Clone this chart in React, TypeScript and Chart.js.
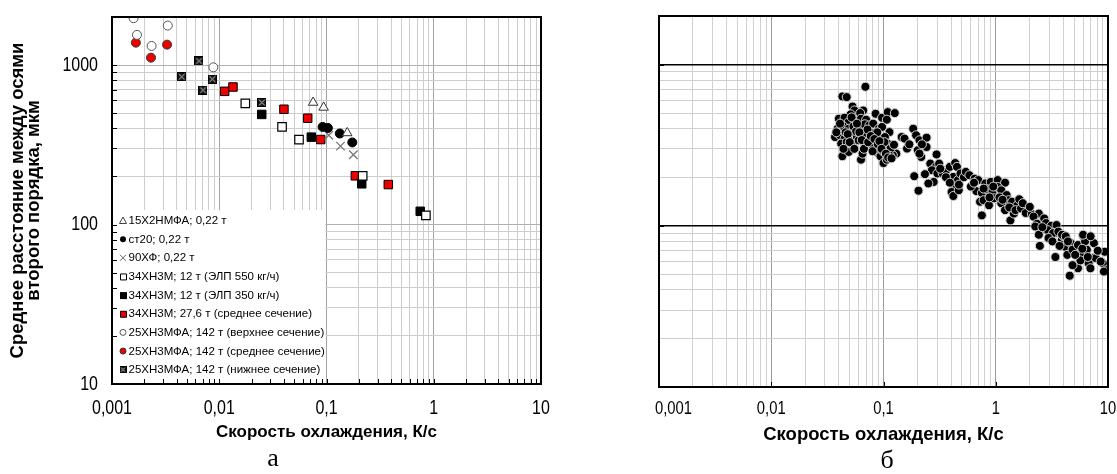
import React, { useEffect, useRef } from 'react';
import { Chart, registerables } from 'chart.js';

Chart.register(...registerables);

// ---------------- data ----------------
const xDecadeLabels = ['0,001', '0,01', '0,1', '1', '10'];
const yDecadeLabels = ['10', '100', '1000'];
const xTitle = 'Скорость охлаждения, К/с';
const yTitle = ['Среднее расстояние между осями', 'второго порядка, мкм'];
const captions = ['а', 'б'];

const legendLabels = [
  '15Х2НМФА; 0,22 т',
  'ст20; 0,22 т',
  '90ХФ; 0,22 т',
  '34ХН3М; 12 т (ЭЛП 550 кг/ч)',
  '34ХН3М; 12 т (ЭЛП 350 кг/ч)',
  '34ХН3М; 27,6 т (среднее сечение)',
  '25ХН3МФА; 142 т (верхнее сечение)',
  '25ХН3МФА; 142 т (среднее сечение)',
  '25ХН3МФА; 142 т (нижнее сечение)',
];

const s15H2NMFA = [[0.075, 582], [0.094, 542], [0.156, 375]];
const sSt20 = [[0.092, 409], [0.103, 403], [0.133, 372], [0.174, 327]];
const s90HF = [[0.105, 363], [0.135, 310], [0.178, 274]];
const s34ELP550 = [[0.0175, 574], [0.0385, 409], [0.0554, 341], [0.2175, 202], [0.845, 114]];
const s34ELP350 = [[0.0249, 490], [0.0722, 353], [0.213, 180], [0.748, 121]];
const s34Mid = [[0.01124, 684], [0.01343, 728], [0.0401, 528], [0.0668, 464], [0.0883, 341], [0.1857, 202], [0.377, 178]];
const s25Top = [[0.00159, 1967], [0.00171, 1545], [0.00234, 1316], [0.00331, 1767], [0.00881, 967]];
const s25Mid = [[0.00167, 1381], [0.00231, 1112], [0.00326, 1342]];
const s25Bot = [[0.00647, 1060], [0.00447, 844], [0.00705, 696], [0.00861, 816], [0.025, 582]];

const cloudSlow = [
  [0.069, 728], [0.043, 634], [0.047, 628], [0.053, 549], [0.055, 519], [0.051, 491], [0.066, 519], [0.062, 500],
  [0.085, 495], [0.097, 468], [0.109, 507], [0.126, 500], [0.107, 455], [0.040, 461], [0.045, 468], [0.049, 440],
  [0.056, 451], [0.063, 461], [0.070, 455], [0.039, 400], [0.044, 413], [0.049, 400], [0.054, 413], [0.060, 404],
  [0.068, 426], [0.075, 420], [0.081, 430], [0.091, 400], [0.097, 410], [0.113, 381], [0.037, 355], [0.041, 364],
  [0.045, 347], [0.052, 359], [0.058, 355], [0.065, 352], [0.071, 364], [0.078, 376], [0.087, 359], [0.094, 347],
  [0.103, 355], [0.042, 323], [0.047, 331], [0.053, 320], [0.060, 339], [0.068, 320], [0.084, 305], [0.091, 294],
  [0.100, 308], [0.109, 323], [0.117, 294], [0.126, 287], [0.043, 270], [0.049, 287], [0.063, 257], [0.065, 280],
  [0.086, 287], [0.094, 270], [0.100, 245], [0.107, 257], [0.130, 280], [0.121, 274], [0.046, 380], [0.057, 385],
  [0.072, 395], [0.088, 380], [0.102, 330], [0.115, 300], [0.075, 340], [0.081, 310], [0.099, 290], [0.114, 272],
  [0.038, 380], [0.041, 430], [0.044, 300], [0.048, 370], [0.050, 330], [0.052, 470], [0.055, 300], [0.058, 430],
  [0.061, 380], [0.064, 340], [0.067, 300], [0.073, 330], [0.077, 360], [0.080, 290], [0.083, 345], [0.089, 320],
  [0.092, 335], [0.096, 300], [0.105, 280], [0.110, 265], [0.118, 262], [0.124, 318],
];
const cloudMid = [
  [0.145, 355], [0.154, 347], [0.184, 400], [0.195, 364], [0.209, 339], [0.242, 352], [0.242, 308], [0.162, 301],
  [0.202, 294], [0.217, 267], [0.209, 280], [0.297, 277], [0.188, 203], [0.205, 165], [0.17, 320], [0.22, 320],
  [0.261, 243], [0.292, 232], [0.313, 243], [0.270, 221], [0.302, 211], [0.280, 187], [0.251, 183], [0.234, 209],
  [0.337, 211], [0.362, 221], [0.390, 232], [0.435, 245], [0.451, 232], [0.419, 201], [0.461, 192], [0.485, 211],
  [0.435, 174], [0.404, 162], [0.419, 153], [0.468, 166], [0.32, 226], [0.36, 200], [0.39, 185], [0.47, 180],
  [0.52, 200],
];
const cloudFast = [
  [0.541, 216], [0.582, 206], [0.649, 196], [0.699, 192], [0.808, 183], [0.902, 187], [1.04, 192], [1.21, 185],
  [0.673, 164], [0.752, 160], [0.838, 168], [0.935, 162], [1.04, 174], [1.12, 166], [1.25, 155], [0.725, 141],
  [0.779, 144], [0.870, 134], [0.970, 148], [1.12, 138], [1.30, 144], [1.40, 141], [0.752, 116], [1.21, 125],
  [1.35, 108], [1.45, 119], [1.56, 134], [1.62, 146], [0.60, 175], [0.64, 185], [0.78, 170], [0.88, 150],
  [0.95, 175], [1.08, 150], [1.15, 145], [1.32, 130], [1.50, 125], [1.68, 128], [1.85, 120], [2.1, 118],
  [1.74, 138], [2.01, 131], [2.42, 119], [2.70, 111], [2.17, 114], [2.33, 103], [2.51, 94], [2.80, 104],
  [3.12, 100], [3.48, 101], [3.36, 90], [2.25, 99], [2.42, 88], [2.47, 75], [2.90, 94], [3.24, 90],
  [3.40, 64], [3.89, 82], [4.18, 74], [4.66, 78], [4.34, 66], [4.83, 71], [5.40, 76], [5.80, 66],
  [6.02, 86], [6.25, 80], [6.48, 71], [7.23, 63], [7.49, 78], [6.72, 58.5], [6.97, 54.5], [7.77, 63],
  [9.33, 69], [9.0, 58.5], [9.66, 53], [9.2, 52], [4.56, 49], [5.40, 54.5], [4.83, 57], [5.68, 61],
  [4.03, 86], [3.61, 92], [3.9, 88], [4.2, 86], [6.0, 88], [7.0, 86], [2.6, 98], [2.95, 84],
  [3.2, 80], [3.7, 75], [4.4, 80], [5.1, 66], [5.9, 72], [6.6, 64], [8.1, 70], [8.6, 60],
];

// ---------------- helpers ----------------
const SANS = "'Liberation Sans', Arial, sans-serif";

function decade(v: number): number | null {
  const l = Math.log10(v);
  const r = Math.round(l);
  return Math.abs(l - r) < 1e-6 ? r : null;
}
const fmtX = (v: number) => {
  const d = decade(v);
  return d === null ? '' : xDecadeLabels[d + 3] ?? '';
};
const fmtY = (v: number) => {
  const d = decade(v);
  return d === null ? '' : yDecadeLabels[d - 1] ?? '';
};
function logTicks(min: number, max: number) {
  const out: { value: number }[] = [];
  for (let d = Math.floor(Math.log10(min)); d <= Math.ceil(Math.log10(max)); d++) {
    for (let m = 1; m <= 9; m++) {
      const v = parseFloat((m * Math.pow(10, d)).toPrecision(6));
      if (v >= min - 1e-12 && v <= max + 1e-9) out.push({ value: v });
    }
  }
  return out;
}
const pts = (arr: number[][]) => arr.map(([x, y]) => ({ x, y }));

function crossedSquare(size: number) {
  const c = document.createElement('canvas');
  c.width = size;
  c.height = size;
  const g = c.getContext('2d')!;
  g.fillStyle = '#1a1a1a';
  g.fillRect(0, 0, size, size);
  g.strokeStyle = '#c8c8c8';
  g.lineWidth = 1;
  g.beginPath();
  g.moveTo(1.5, 1.5);
  g.lineTo(size - 1.5, size - 1.5);
  g.moveTo(size - 1.5, 1.5);
  g.lineTo(1.5, size - 1.5);
  g.stroke();
  g.strokeStyle = '#000';
  g.strokeRect(0.5, 0.5, size - 1, size - 1);
  return c;
}

function drawLegendMarker(ctx: CanvasRenderingContext2D, i: number, cx: number, cy: number, img: HTMLCanvasElement) {
  ctx.save();
  ctx.lineWidth = 1;
  const s = 3;
  ctx.beginPath();
  switch (i) {
    case 0:
      ctx.moveTo(cx, cy - s - 0.5);
      ctx.lineTo(cx + s + 0.5, cy + s);
      ctx.lineTo(cx - s - 0.5, cy + s);
      ctx.closePath();
      ctx.fillStyle = '#fff';
      ctx.fill();
      ctx.strokeStyle = '#444';
      ctx.stroke();
      break;
    case 1:
      ctx.arc(cx, cy, s, 0, Math.PI * 2);
      ctx.fillStyle = '#000';
      ctx.fill();
      break;
    case 2:
      ctx.moveTo(cx - s, cy - s);
      ctx.lineTo(cx + s, cy + s);
      ctx.moveTo(cx + s, cy - s);
      ctx.lineTo(cx - s, cy + s);
      ctx.strokeStyle = '#666';
      ctx.stroke();
      break;
    case 3:
      ctx.rect(cx - s + 0.5, cy - s + 0.5, 2 * s, 2 * s);
      ctx.fillStyle = '#fff';
      ctx.fill();
      ctx.strokeStyle = '#000';
      ctx.stroke();
      break;
    case 4:
      ctx.fillStyle = '#000';
      ctx.fillRect(cx - s, cy - s, 2 * s + 1, 2 * s + 1);
      break;
    case 5:
      ctx.rect(cx - s + 0.5, cy - s + 0.5, 2 * s, 2 * s);
      ctx.fillStyle = '#ee0000';
      ctx.fill();
      ctx.strokeStyle = '#000';
      ctx.stroke();
      break;
    case 6:
      ctx.arc(cx, cy, s, 0, Math.PI * 2);
      ctx.fillStyle = '#fff';
      ctx.fill();
      ctx.strokeStyle = '#555';
      ctx.stroke();
      break;
    case 7:
      ctx.arc(cx, cy, s, 0, Math.PI * 2);
      ctx.fillStyle = '#ee0000';
      ctx.fill();
      ctx.strokeStyle = '#333';
      ctx.stroke();
      break;
    case 8:
      ctx.drawImage(img, cx - 3.5, cy - 3.5, 7, 7);
      break;
  }
  ctx.restore();
}

type FrameCfg = {
  id: string;
  allTicks: boolean;
  tickLen: number;
  labelSize: number;
  vScale: number;
  xLabelY: number;
  yLabelRight: number | null;
  clampFirst: boolean;
};

function framePlugin(cfg: FrameCfg) {
  return {
    id: cfg.id,
    afterDraw(chart: any) {
      const { ctx, chartArea: a } = chart;
      const xs = chart.scales.x;
      const ys = chart.scales.y;
      ctx.save();
      // inward tick marks
      ctx.strokeStyle = '#000';
      ctx.lineWidth = 1;
      ctx.beginPath();
      xs.ticks.forEach((t: any) => {
        if (!cfg.allTicks && decade(t.value) === null) return;
        const px = Math.round(xs.getPixelForValue(t.value)) + 0.5;
        ctx.moveTo(px, a.bottom);
        ctx.lineTo(px, a.bottom - cfg.tickLen);
      });
      ys.ticks.forEach((t: any) => {
        if (!cfg.allTicks && decade(t.value) === null) return;
        const py = Math.round(ys.getPixelForValue(t.value)) + 0.5;
        ctx.moveTo(a.left, py);
        ctx.lineTo(a.left + cfg.tickLen, py);
      });
      ctx.stroke();
      // frame
      ctx.lineWidth = 2;
      ctx.strokeRect(a.left, a.top, a.right - a.left, a.bottom - a.top);
      // tick labels (tall, like the reference)
      ctx.fillStyle = '#000';
      ctx.font = `${cfg.labelSize}px ${SANS}`;
      ctx.textBaseline = 'middle';
      xs.ticks.forEach((t: any) => {
        const lab = fmtX(t.value);
        if (!lab) return;
        let px = xs.getPixelForValue(t.value);
        const w = ctx.measureText(lab).width;
        if (cfg.clampFirst && px - w / 2 < a.left - 4) px = a.left - 4 + w / 2;
        ctx.save();
        ctx.translate(px, cfg.xLabelY);
        ctx.scale(1, cfg.vScale);
        ctx.textAlign = 'center';
        ctx.fillText(lab, 0, 0);
        ctx.restore();
      });
      if (cfg.yLabelRight !== null) {
        ys.ticks.forEach((t: any) => {
          const lab = fmtY(t.value);
          if (!lab) return;
          const py = ys.getPixelForValue(t.value);
          ctx.save();
          ctx.translate(cfg.yLabelRight, py);
          ctx.scale(1, cfg.vScale);
          ctx.textAlign = 'right';
          ctx.fillText(lab, 0, 0);
          ctx.restore();
        });
      }
      ctx.restore();
    },
  };
}

export default function App() {
  const leftRef = useRef<HTMLCanvasElement>(null);
  const rightRef = useRef<HTMLCanvasElement>(null);

  useEffect(() => {
    const img = crossedSquare(9);
    const legendImg = crossedSquare(7);

    const legendPlugin = {
      id: 'insetLegend',
      afterDraw(chart: any) {
        const { ctx, chartArea: a } = chart;
        const xs = chart.scales.x;
        const right = xs.getPixelForValue(0.1) - 1;
        const top = 210;
        ctx.save();
        ctx.fillStyle = '#fff';
        ctx.fillRect(a.left, top, right - a.left, a.bottom - top);
        ctx.font = `11.5px ${SANS}`;
        ctx.textBaseline = 'middle';
        ctx.textAlign = 'left';
        legendLabels.forEach((lab, i) => {
          const cy = 220.5 + i * 18.65;
          drawLegendMarker(ctx, i, 123, cy, legendImg);
          ctx.fillStyle = '#000';
          ctx.fillText(lab, 128.5, cy + 0.5);
        });
        ctx.restore();
      },
    };

    const xBase = (height: number, titleSize: number, titlePad: number, gridColor: any) => ({
      type: 'logarithmic',
      min: 0.001,
      max: 10,
      afterBuildTicks: (s: any) => {
        s.ticks = logTicks(0.001, 10);
      },
      afterFit: (s: any) => {
        s.height = height;
        s.paddingLeft = 0;
        s.paddingRight = 0;
      },
      grid: { color: gridColor, lineWidth: 1, drawTicks: false },
      border: { display: false },
      ticks: { display: false },
      title: {
        display: true,
        text: xTitle,
        color: '#000',
        font: { family: SANS, size: titleSize, weight: 'bold' },
        padding: { top: 0, bottom: titlePad },
      },
    });

    const tickOf = (c: any) => (c && c.tick ? c.tick.value : 2);

    const left = new Chart(leftRef.current!, {
      type: 'scatter',
      data: {
        datasets: [
          { label: legendLabels[0], data: pts(s15H2NMFA), pointStyle: 'triangle', pointRadius: 5.5, backgroundColor: '#fff', borderColor: '#333', borderWidth: 1 },
          { label: legendLabels[1], data: pts(sSt20), pointStyle: 'circle', pointRadius: 4.5, backgroundColor: '#000', borderColor: '#000', borderWidth: 1 },
          { label: legendLabels[2], data: pts(s90HF), pointStyle: 'crossRot', pointRadius: 6, backgroundColor: '#777', borderColor: '#777', borderWidth: 1.3 },
          { label: legendLabels[3], data: pts(s34ELP550), pointStyle: 'rect', pointRadius: 6, backgroundColor: '#fff', borderColor: '#000', borderWidth: 1.2 },
          { label: legendLabels[4], data: pts(s34ELP350), pointStyle: 'rect', pointRadius: 6, backgroundColor: '#000', borderColor: '#000', borderWidth: 1 },
          { label: legendLabels[5], data: pts(s34Mid), pointStyle: 'rect', pointRadius: 6, backgroundColor: '#ee0000', borderColor: '#000', borderWidth: 1 },
          { label: legendLabels[6], data: pts(s25Top), pointStyle: 'circle', pointRadius: 4.5, backgroundColor: '#fff', borderColor: '#555', borderWidth: 1 },
          { label: legendLabels[7], data: pts(s25Mid), pointStyle: 'circle', pointRadius: 4.5, backgroundColor: '#ee0000', borderColor: '#333', borderWidth: 1 },
          { label: legendLabels[8], data: pts(s25Bot), pointStyle: img, pointRadius: 5 },
        ],
      },
      options: {
        animation: false,
        responsive: false,
        maintainAspectRatio: false,
        events: [],
        layout: { padding: { left: 0, right: 19, top: 17, bottom: 0 } },
        plugins: { legend: { display: false }, tooltip: { enabled: false } },
        scales: {
          x: xBase(90, 17, 31, (c: any) => (decade(tickOf(c)) !== null ? '#a3a3a3' : '#cdcdcd')),
          y: {
            type: 'logarithmic',
            min: 10,
            max: 2000,
            afterBuildTicks: (s: any) => {
              s.ticks = logTicks(10, 2000);
            },
            afterFit: (s: any) => {
              s.width = 112;
              s.paddingTop = 0;
              s.paddingBottom = 0;
            },
            grid: { color: (c: any) => (decade(tickOf(c)) !== null ? '#b0b0b0' : '#cdcdcd'), lineWidth: 1, drawTicks: false },
            border: { display: false },
            ticks: { display: false },
            title: {
              display: true,
              text: yTitle,
              color: '#000',
              font: { family: SANS, size: 18.5, weight: 'bold', lineHeight: 0.865 },
              padding: { top: 10, bottom: 0 },
            },
          },
        },
      } as any,
      plugins: [
        legendPlugin,
        framePlugin({ id: 'leftFrame', allTicks: true, tickLen: 5, labelSize: 16, vScale: 1.28, xLabelY: 408, yLabelRight: 98, clampFirst: false }),
      ],
    });

    const right = new Chart(rightRef.current!, {
      type: 'scatter',
      data: {
        datasets: [
          {
            label: 'cloud',
            data: pts([...cloudSlow, ...cloudMid, ...cloudFast]),
            pointStyle: 'circle',
            pointRadius: 4.5,
            backgroundColor: '#000',
            borderColor: '#d4d4d4',
            borderWidth: 1,
          },
        ],
      },
      options: {
        animation: false,
        responsive: false,
        maintainAspectRatio: false,
        events: [],
        layout: { padding: { left: 0, right: 9, top: 16, bottom: 0 } },
        plugins: { legend: { display: false }, tooltip: { enabled: false } },
        scales: {
          x: xBase(87, 18.5, 28, (c: any) => (decade(tickOf(c)) !== null ? '#9a9a9a' : '#d0d0d0')),
          y: {
            type: 'logarithmic',
            min: 10,
            max: 2000,
            afterBuildTicks: (s: any) => {
              s.ticks = logTicks(10, 2000);
            },
            afterFit: (s: any) => {
              s.width = 99;
              s.paddingTop = 0;
              s.paddingBottom = 0;
            },
            grid: {
              color: (c: any) => (decade(tickOf(c)) !== null ? '#000' : '#d0d0d0'),
              lineWidth: (c: any) => (decade(tickOf(c)) !== null ? 1.5 : 1),
              drawTicks: false,
            },
            border: { display: false },
            ticks: { display: false },
          },
        },
      } as any,
      plugins: [
        framePlugin({ id: 'rightFrame', allTicks: false, tickLen: 5, labelSize: 14.8, vScale: 1.27, xLabelY: 408.5, yLabelRight: null, clampFirst: true }),
      ],
    });

    return () => {
      left.destroy();
      right.destroy();
    };
  }, []);

  const capStyle: React.CSSProperties = {
    position: 'absolute',
    width: 40,
    textAlign: 'center',
    fontFamily: "'Liberation Serif', 'Times New Roman', serif",
    fontSize: 26,
    lineHeight: '30px',
    color: '#000',
  };

  return (
    <div style={{ position: 'fixed', left: 0, top: 0, width: 1117, height: 474, background: '#fff', overflow: 'hidden' }}>
      <canvas ref={leftRef} width={560} height={474} style={{ position: 'absolute', left: 0, top: 0, width: 560, height: 474 }} />
      <canvas ref={rightRef} width={557} height={474} style={{ position: 'absolute', left: 560, top: 0, width: 557, height: 474 }} />
      <div style={{ ...capStyle, left: 253, top: 443 }}>{captions[0]}</div>
      <div style={{ ...capStyle, left: 867, top: 445 }}>{captions[1]}</div>
    </div>
  );
}
